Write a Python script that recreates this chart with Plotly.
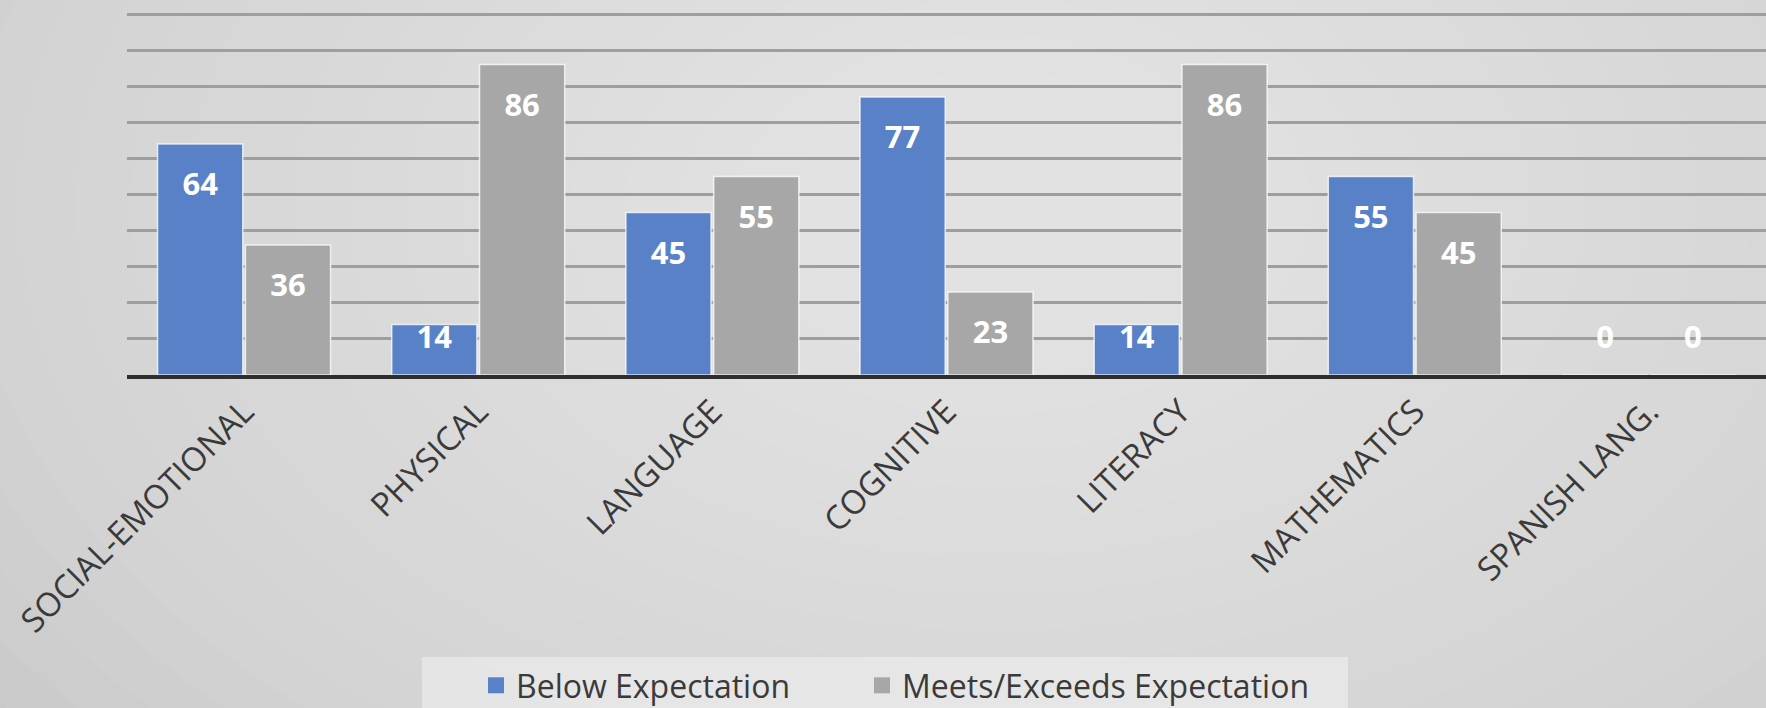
import plotly.graph_objects as go

categories = ["SOCIAL-EMOTIONAL", "PHYSICAL", "LANGUAGE", "COGNITIVE",
              "LITERACY", "MATHEMATICS", "SPANISH LANG."]
below_expectation = [64, 14, 45, 77, 14, 55, 0]
meets_exceeds = [36, 86, 55, 23, 86, 45, 0]
series_names = ["Below Expectation", "Meets/Exceeds Expectation"]

BLUE = "#5881c8"
GRAY = "#a7a7a7"
FONT = "Open Sans"

# label placement (inside end, with Excel-like padding)
LABEL_DROP = 12
LABEL_FLOOR = 9.5

PLOT_H = 375  # px height of plotting area
PLOT_W = 1639


def label_y(vals):
    return [max(v - LABEL_DROP, LABEL_FLOOR) for v in vals]


series = [(series_names[0], below_expectation, BLUE, "legend"),
          (series_names[1], meets_exceeds, GRAY, "legend2")]

fig = go.Figure()
for name, vals, col, lg in series:
    fig.add_trace(go.Bar(
        x=categories, y=vals, name=name, marker_color=col,
        marker_line=dict(color="rgba(255,255,255,0.75)", width=1.5),
        offsetgroup=name, hoverinfo="skip", showlegend=False,
    ))
for name, vals, col, lg in series:
    fig.add_trace(go.Scatter(
        x=categories, y=label_y(vals), mode="text",
        text=[str(v) for v in vals], textposition="middle center",
        textfont=dict(family=FONT, size=31, color="white", weight="bold"),
        offsetgroup=name, showlegend=False, hoverinfo="skip",
    ))
    # legend entry with a larger square swatch
    fig.add_trace(go.Scatter(
        x=[None], y=[None], mode="markers", name=name, legend=lg,
        marker=dict(symbol="square", size=20, color=col),
        offsetgroup=name, hoverinfo="skip",
    ))

# soft radial background glow
shapes = []
n = 20
cx, cy = 0.53, 0.45
for i in range(n):
    rx = (1250 - i * 55) / PLOT_W
    ry = (820 - i * 36) / PLOT_H
    shapes.append(dict(type="circle", xref="paper", yref="paper",
                       x0=cx - rx, x1=cx + rx, y0=cy - ry, y1=cy + ry,
                       fillcolor="rgba(255,255,255,0.045)", line_width=0,
                       layer="below"))
# legend panel
shapes.append(dict(type="rect", xref="paper", yref="paper",
                   x0=(422 - 127) / PLOT_W, x1=(1348 - 127) / PLOT_W,
                   y0=(PLOT_H - 720) / PLOT_H, y1=(PLOT_H - 657) / PLOT_H,
                   fillcolor="rgba(240,240,240,0.6)", line_width=0,
                   layer="below"))

legend_style = dict(orientation="h", xanchor="left", yanchor="top",
                    y=(PLOT_H - 658) / PLOT_H,
                    font=dict(family=FONT, size=32, color="#3a3a3a"),
                    bgcolor="rgba(0,0,0,0)", itemwidth=30)

fig.update_layout(
    width=1766, height=708,
    margin=dict(l=127, r=0, t=0, b=708 - PLOT_H, autoexpand=False),
    paper_bgcolor="#c9c9c9", plot_bgcolor="rgba(0,0,0,0)",
    barmode="group", bargap=0.25, bargroupgap=0.03,
    scattermode="group", scattergap=0.25,
    shapes=shapes,
    showlegend=True,
    legend=dict(x=(476 - 127) / PLOT_W, **legend_style),
    legend2=dict(x=(862 - 127) / PLOT_W, **legend_style),
    font=dict(family=FONT),
)
fig.update_xaxes(tickangle=-45, tickfont=dict(family=FONT, size=33, color="#3a3a3a"),
                 showline=True, linecolor="#2e2e2e", linewidth=4,
                 ticks="", showgrid=False)
fig.update_yaxes(range=[0, 103.9], dtick=10, showticklabels=False,
                 showgrid=True, gridcolor="#9e9e9e", gridwidth=2.5,
                 zeroline=False, showline=False)

fig.write_html("out.html")
